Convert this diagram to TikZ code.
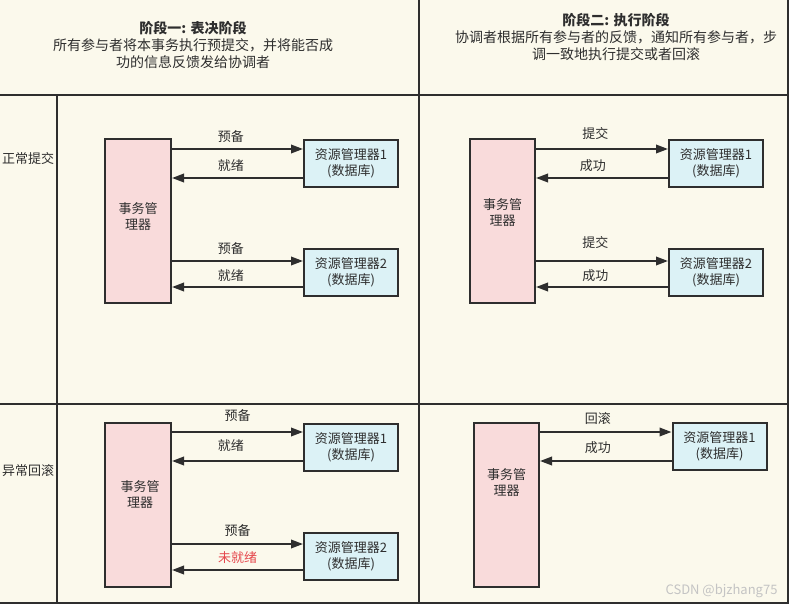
\documentclass[tikz,border=0pt]{standalone}
\usepackage{fontspec}
\setmainfont{Noto Sans CJK SC}
\usetikzlibrary{arrows.meta,calc}
\usetikzlibrary{positioning}

\definecolor{paper}{HTML}{FBF9EC}
\definecolor{tmpink}{HTML}{F9DBDB}
\definecolor{rmblue}{HTML}{DCF2F6}
\definecolor{ink}{HTML}{2E2E2E}
\definecolor{warnred}{HTML}{E5484D}
\definecolor{mark}{HTML}{C4C4C4}

\tikzset{
  gridline/.style={line width=2pt, draw=ink},
  tmbox/.style={draw=ink, line width=2pt, fill=tmpink, minimum width=66pt, minimum height=164pt, inner sep=0pt},
  tmtext/.style={align=center, text=ink, font=\fontsize{13}{16}\selectfont},
  rmbox/.style={draw=ink, line width=2pt, fill=rmblue, minimum width=94pt, minimum height=47pt, inner sep=0pt, align=center, text=ink, font=\fontsize{13}{16}\selectfont},
  flow/.style={line width=2pt, draw=ink, -{Triangle[length=12pt,width=8.5pt]}},
  msg/.style={text=ink, font=\fontsize{13}{15}\selectfont, inner sep=0pt},
  head/.style={align=center, text=ink, font=\fontsize{14}{17}\selectfont},
  rowlabel/.style={text=ink, font=\fontsize{13}{15}\selectfont}
}

\begin{document}
\begin{tikzpicture}[x=1pt, y=-1pt, line cap=butt, line join=miter]
  % Canvas
  \useasboundingbox (0,0) rectangle (789,604);
  \fill[paper] (0,0) rectangle (789,604);

  % Table lines
  \draw[gridline] (0,95) -- (789,95);
  \draw[gridline] (0,404) -- (789,404);
  \draw[gridline] (0,602.5) -- (789,602.5);
  \draw[gridline] (419,0) -- (419,604);
  \draw[gridline] (787.5,0) -- (787.5,604);
  \draw[gridline] (57,95) -- (57,604);

  % Headers
  \node[head] (headL) at (193,45) {{\bfseries 阶段一: 表决阶段}\\所有参与者将本事务执行预提交，并将能否成\\功的信息反馈发给协调者};
  \node[head] (headR) at (616,37) {{\bfseries 阶段二: 执行阶段}\\协调者根据所有参与者的反馈，通知所有参与者，步\\调一致地执行提交或者回滚};

  % Row labels
  \node[rowlabel] (rowOK) at (28,159) {正常提交};
  \node[rowlabel] (rowBack) at (28,471) {异常回滚};

  % Phase 1, normal commit
  \node[tmbox] (tmA) at (138,221) {};
  \node[tmtext] (tmAtext) at (138,217) {事务管\\理器};
  \node[rmbox] (rmA1) at (351,163.5) {资源管理器1\\(数据库)};
  \node[rmbox] (rmA2) at (351,272.5) {资源管理器2\\(数据库)};
  \coordinate (yA1) at (0,149);
  \coordinate (yA2) at (0,178);
  \coordinate (yA3) at (0,261);
  \coordinate (yA4) at (0,287);
  \draw[flow] (tmA.east |- yA1) -- (rmA1.west |- yA1) node[msg, pos=0.45, above=5pt] {预备};
  \draw[flow] (rmA1.west |- yA2) -- (tmA.east |- yA2) node[msg, pos=0.55, above=5pt] {就绪};
  \draw[flow] (tmA.east |- yA3) -- (rmA2.west |- yA3) node[msg, pos=0.45, above=5pt] {预备};
  \draw[flow] (rmA2.west |- yA4) -- (tmA.east |- yA4) node[msg, pos=0.55, above=4pt] {就绪};

  % Phase 2, normal commit
  \node[tmbox, minimum width=65pt] (tmB) at (502.5,221) {};
  \node[tmtext] (tmBtext) at (502.5,213) {事务管\\理器};
  \node[rmbox] (rmB1) at (716,163.5) {资源管理器1\\(数据库)};
  \node[rmbox] (rmB2) at (716,272.5) {资源管理器2\\(数据库)};
  \coordinate (yB1) at (0,149);
  \coordinate (yB2) at (0,178);
  \coordinate (yB3) at (0,261);
  \coordinate (yB4) at (0,287);
  \draw[flow] (tmB.east |- yB1) -- (rmB1.west |- yB1) node[msg, pos=0.45, above=8pt] {提交};
  \draw[flow] (rmB1.west |- yB2) -- (tmB.east |- yB2) node[msg, pos=0.57, above=5pt] {成功};
  \draw[flow] (tmB.east |- yB3) -- (rmB2.west |- yB3) node[msg, pos=0.45, above=11pt] {提交};
  \draw[flow] (rmB2.west |- yB4) -- (tmB.east |- yB4) node[msg, pos=0.55, above=4pt] {成功};

  % Phase 1, rollback
  \node[tmbox] (tmC) at (138,504.5) {};
  \node[tmtext] (tmCtext) at (140,495) {事务管\\理器};
  \node[rmbox] (rmC1) at (351,447) {资源管理器1\\(数据库)};
  \node[rmbox] (rmC2) at (351,556) {资源管理器2\\(数据库)};
  \coordinate (yC1) at (0,432);
  \coordinate (yC2) at (0,461);
  \coordinate (yC3) at (0,544);
  \coordinate (yC4) at (0,570);
  \draw[flow] (tmC.east |- yC1) -- (rmC1.west |- yC1) node[msg, pos=0.5, above=9pt] {预备};
  \draw[flow] (rmC1.west |- yC2) -- (tmC.east |- yC2) node[msg, pos=0.55, above=8pt] {就绪};
  \draw[flow] (tmC.east |- yC3) -- (rmC2.west |- yC3) node[msg, pos=0.5, above=6pt] {预备};
  \draw[flow] (rmC2.west |- yC4) -- (tmC.east |- yC4) node[msg, pos=0.5, above=5pt, text=warnred] {未就绪};

  % Phase 2, rollback
  \node[tmbox, minimum width=65pt] (tmD) at (506.5,504.5) {};
  \node[tmtext] (tmDtext) at (506.5,483) {事务管\\理器};
  \node[rmbox] (rmD1) at (719.5,446.5) {资源管理器1\\(数据库)};
  \coordinate (yD1) at (0,432);
  \coordinate (yD2) at (0,461);
  \draw[flow] (tmD.east |- yD1) -- (rmD1.west |- yD1) node[msg, pos=0.44, above=6pt] {回滚};
  \draw[flow] (rmD1.west |- yD2) -- (tmD.east |- yD2) node[msg, pos=0.56, above=6pt] {成功};

  % Watermark
  \node[text=mark, font=\fontsize{13}{15}\selectfont, anchor=east] (wmark) at (781,591) {CSDN @bjzhang75};
\end{tikzpicture}
\end{document}
